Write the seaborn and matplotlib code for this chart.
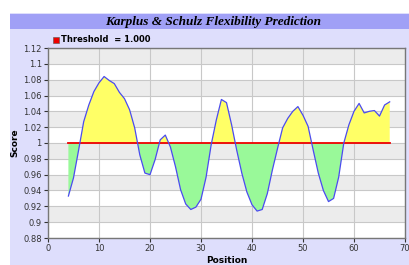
import numpy as np
import pandas as pd
import matplotlib
matplotlib.use("Agg")
import matplotlib.pyplot as plt
from matplotlib.patches import Rectangle
from matplotlib.ticker import FuncFormatter
import seaborn as sns

# Data
position = list(range(4, 68))
score = [0.933, 0.956, 0.991, 1.027, 1.048, 1.065, 1.076, 1.084, 1.079, 1.075,
         1.064, 1.056, 1.042, 1.019, 0.985, 0.962, 0.960, 0.979, 1.004, 1.010,
         0.995, 0.970, 0.941, 0.923, 0.916, 0.919, 0.929, 0.957, 0.998, 1.029,
         1.055, 1.051, 1.023, 0.991, 0.962, 0.938, 0.922, 0.914, 0.916, 0.936,
         0.966, 0.993, 1.019, 1.031, 1.040, 1.046, 1.035, 1.021, 0.991, 0.962,
         0.940, 0.926, 0.930, 0.957, 1.000, 1.023, 1.040, 1.050, 1.038, 1.040,
         1.041, 1.034, 1.048, 1.052]
threshold = 1.0
title = "Karplus & Schulz Flexibility Prediction"

df = pd.DataFrame({"Position": position, "Score": score})

W, H = 409, 265
fig = plt.figure(figsize=(W / 100, H / 100), dpi=100, facecolor="white")

# background panel and title bar
fig.patches.append(Rectangle((10 / W, 0), 1, 1 - 13 / H, transform=fig.transFigure,
                             facecolor="#dedefc", edgecolor="none", zorder=-10))
fig.patches.append(Rectangle((10 / W, 1 - 29 / H), 1, 15 / H, transform=fig.transFigure,
                             facecolor="#a0a0f6", edgecolor="none", zorder=-9))
fig.text(0.52, 1 - 21.5 / H, title, ha="center", va="center", fontsize=9.5,
         fontweight="bold", fontstyle="italic", family="Liberation Serif")

ax = fig.add_axes([48 / W, 1 - 238 / H, (405 - 48) / W, (238 - 48) / H])
ax.set_zorder(1)
ax.set_facecolor("white")

# alternating bands
for lo in [1.10, 1.06, 1.02, 0.98, 0.94, 0.90]:
    ax.axhspan(lo, lo + 0.02, color="#ececec", zorder=0, lw=0)

x = np.array(position)
y = np.array(score)
ax.fill_between(x, y, threshold, where=y >= threshold, interpolate=True,
                color="#ffff66", lw=0, zorder=2)
ax.fill_between(x, y, threshold, where=y <= threshold, interpolate=True,
                color="#99f999", lw=0, zorder=2)
ax.plot([position[0], position[-1]], [threshold, threshold], color="#ee0000",
        lw=1.3, zorder=3)
sns.lineplot(data=df, x="Position", y="Score", ax=ax, color="#4b4bf0",
             linewidth=0.9, zorder=4)

ax.set_xlim(0, 70)
ax.set_ylim(0.88, 1.12)
ax.set_xticks(range(0, 71, 10))
ax.set_yticks(np.arange(0.88, 1.1201, 0.02))
ax.yaxis.set_major_formatter(FuncFormatter(lambda v, p: "%g" % round(v, 2)))
ax.grid(True, color="#c8c8c8", lw=0.8, zorder=1)
ax.set_axisbelow(True)
ax.tick_params(labelsize=6, colors="#333333", length=3, width=0.8, pad=1.5)
for s in ax.spines.values():
    s.set_color("#777777")
    s.set_linewidth(1)

ax.set_xlabel("Position", fontsize=6.5, fontweight="bold", labelpad=2)
ax.set_ylabel("Score", fontsize=6.5, fontweight="bold", labelpad=3)

# legend
fig.patches.append(Rectangle((53 / W, 1 - 43 / H), 6 / W, 6 / H, transform=fig.transFigure,
                             facecolor="#ee0000", edgecolor="#555555", lw=0.4, zorder=5))
fig.text(61 / W, 1 - 40 / H, "Threshold  = 1.000", fontsize=6, fontweight="bold",
         va="center", ha="left")

fig.savefig("out.png", dpi=100, facecolor=fig.get_facecolor())
